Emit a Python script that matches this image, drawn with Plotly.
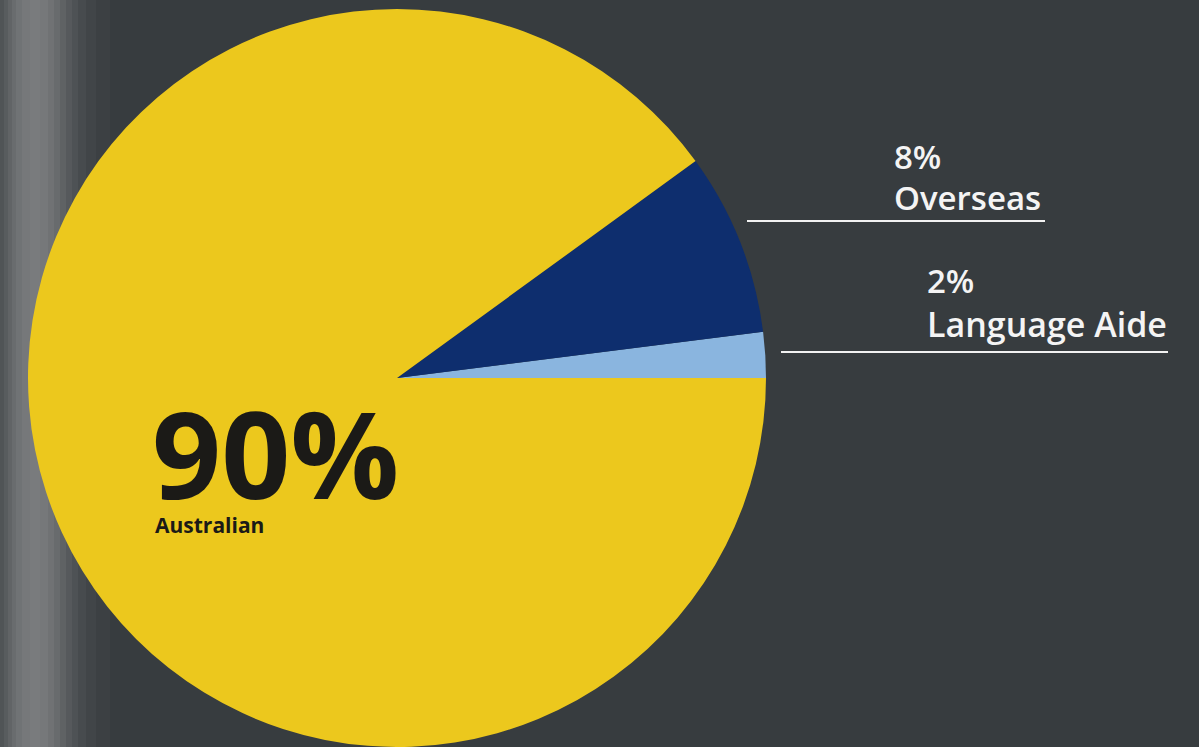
import plotly.graph_objects as go

W, H = 1199, 747

# Data
labels = ["Language Aide", "Overseas", "Australian"]
values = [2, 8, 90]
colors = ["#8ab5df", "#0e2e6e", "#ecc81d"]
pct_text = ["2%", "8%", "90%"]

BG = "#373c3f"

def px(x):
    return x / W

def py(y):
    return 1 - y / H

# pie geometry (pixels)
cx, cy, R = 397, 378, 369
# start the first slice at 3 o'clock, going counterclockwise
rotation = 90 - 360 * values[0] / sum(values)

fig = go.Figure()
fig.add_trace(go.Pie(
    labels=labels,
    values=values,
    marker=dict(colors=colors, line=dict(width=0)),
    sort=False,
    direction="counterclockwise",
    rotation=rotation,
    textinfo="none",
    hoverinfo="label+percent",
    showlegend=False,
    domain=dict(x=[px(cx - R), px(cx + R)], y=[py(cy + R), py(cy - R)]),
))

shapes = []
# lighter vignette band on the left edge
band = [
    (0, 4, "#505456"), (4, 8, "#585c5e"), (8, 12, "#616466"), (12, 16, "#696c6e"),
    (16, 22, "#707375"), (22, 30, "#76787a"), (30, 40, "#797b7d"), (40, 48, "#76787a"),
    (48, 54, "#707274"), (54, 60, "#686b6d"), (60, 66, "#5f6264"), (66, 72, "#56595c"),
    (72, 78, "#4e5255"), (78, 86, "#474b4e"), (86, 96, "#414548"), (96, 110, "#3c4043"),
]
for x0, x1, c in band:
    shapes.append(dict(type="rect", xref="paper", yref="paper",
                       x0=px(x0), x1=px(x1), y0=0, y1=1,
                       fillcolor=c, line=dict(width=0), layer="below"))

# leader lines under labels
for x0, x1, y in [(747, 1045, 221), (781, 1168, 352)]:
    shapes.append(dict(type="line", xref="paper", yref="paper",
                       x0=px(x0), x1=px(x1), y0=py(y), y1=py(y),
                       line=dict(color="#f2f2f2", width=2)))

annotations = [
    dict(text=pct_text[2], x=px(150), y=py(452), xanchor="left", yanchor="middle",
         height=100, valign="middle",
         font=dict(family="Open Sans", size=121, color="#1b1a17", weight=700)),
    dict(text=labels[2], x=px(153), y=py(525), xanchor="left", yanchor="middle",
         font=dict(family="Open Sans", size=21, color="#1b1a17", weight=700)),
    dict(text=pct_text[1], x=px(892), y=py(157), xanchor="left", yanchor="middle",
         font=dict(family="Open Sans", size=33, color="#f4f4f4", weight=600)),
    dict(text=labels[1], x=px(892), y=py(198), xanchor="left", yanchor="middle",
         font=dict(family="Open Sans", size=33, color="#f4f4f4", weight=600)),
    dict(text=pct_text[0], x=px(925), y=py(280), xanchor="left", yanchor="middle",
         font=dict(family="Open Sans", size=33, color="#f4f4f4", weight=600)),
    dict(text=labels[0], x=px(925), y=py(324), xanchor="left", yanchor="middle",
         font=dict(family="Open Sans", size=34, color="#f4f4f4", weight=600)),
]
for a in annotations:
    a.update(xref="paper", yref="paper", showarrow=False)

fig.update_layout(
    width=W, height=H,
    margin=dict(l=0, r=0, t=0, b=0),
    paper_bgcolor=BG,
    plot_bgcolor=BG,
    shapes=shapes,
    annotations=annotations,
)

fig.write_html(
    "out.html",
    config={"displayModeBar": False},
    post_script="document.body.style.margin='0';document.body.style.overflow='hidden';",
)
